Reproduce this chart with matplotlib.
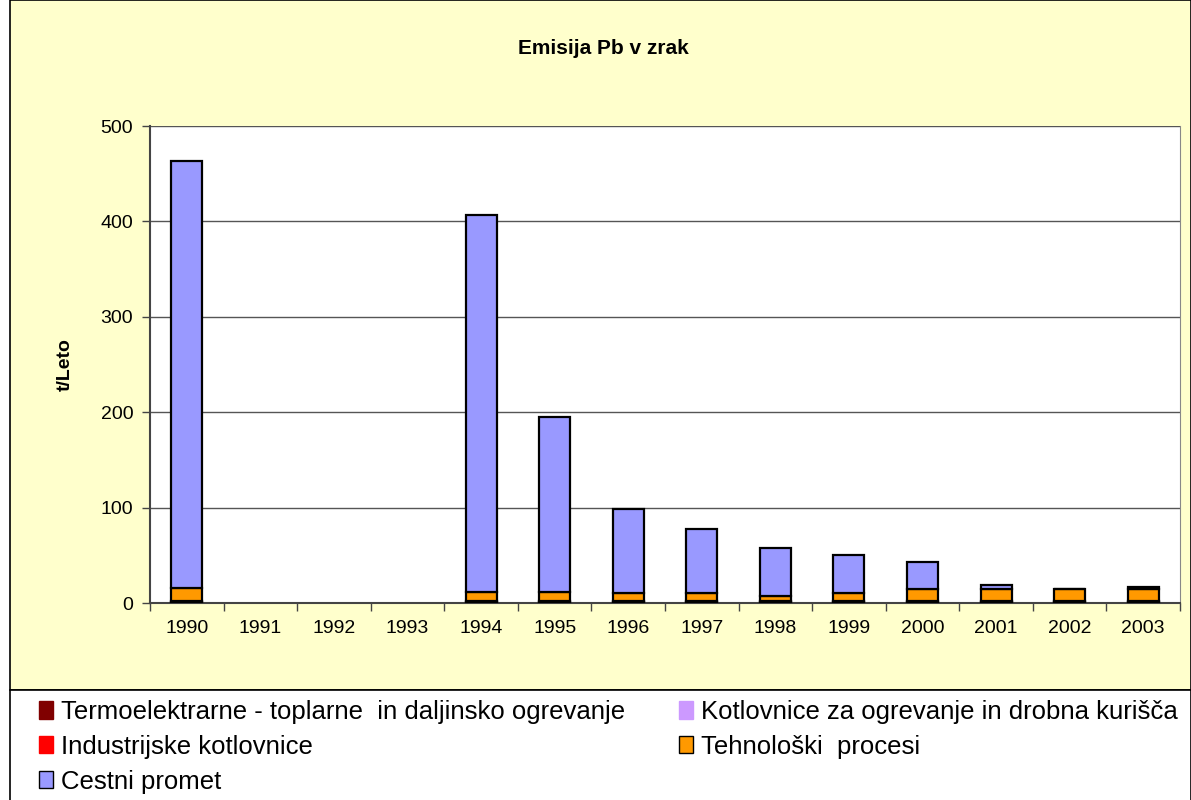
import numpy as np
import matplotlib.pyplot as plt
from matplotlib.patches import Rectangle, Patch

years = ["1990", "1991", "1992", "1993", "1994", "1995", "1996",
         "1997", "1998", "1999", "2000", "2001", "2002", "2003"]
nan = np.nan
termo = [1.5, nan, nan, nan, 1.5, 1.5, 1.0, 1.0, 1.0, 1.0, 1.0, 1.0, 1.0, 1.0]
industr = [0.5, nan, nan, nan, 0.5, 0.5, 0.5, 0.5, 0.5, 0.5, 0.5, 0.5, 0.5, 0.5]
kotlov = [0.3, nan, nan, nan, 0.3, 0.3, 0.3, 0.3, 0.3, 0.3, 0.3, 0.3, 0.3, 0.3]
tehno = [13.7, nan, nan, nan, 9.7, 9.7, 8.2, 8.2, 5.7, 8.2, 12.7, 12.5, 12.7, 12.7]
cestni = [447, nan, nan, nan, 395, 183, 88.5, 68, 50.5, 40, 28.5, 4.2, 0.3, 2.0]

series = [
    ("Termoelektrarne - toplarne  in daljinsko ogrevanje", termo, "#800000"),
    ("Industrijske kotlovnice", industr, "#FF0000"),
    ("Kotlovnice za ogrevanje in drobna kurišča", kotlov, "#CC99FF"),
    ("Tehnološki  procesi", tehno, "#FF9900"),
    ("Cestni promet", cestni, "#9999FF"),
]

plt.rcParams["font.family"] = ["Liberation Sans", "DejaVu Sans"]

fig = plt.figure(figsize=(11.91, 8), dpi=100)
fig.patch.set_facecolor("white")

# chart area (yellow) and legend area
fig.add_artist(Rectangle((10 / 1191, 110 / 800), 1 - 10 / 1191, 690 / 800,
                         transform=fig.transFigure, facecolor="#FFFFCC",
                         edgecolor="black", linewidth=1.2, zorder=0))
fig.add_artist(Rectangle((10 / 1191, -0.01), 1 - 10 / 1191, 110 / 800 + 0.01,
                         transform=fig.transFigure, facecolor="white",
                         edgecolor="black", linewidth=1.2, zorder=0))

ax = fig.add_axes([150 / 1191, 197 / 800, 1030 / 1191, 477 / 800])
ax.set_facecolor("white")

x = np.arange(len(years))
bottom = np.zeros(len(years))
for name, vals, col in series:
    v = np.array(vals, dtype=float)
    ok = ~np.isnan(v)
    ax.bar(x[ok], v[ok], bottom=bottom[ok], width=0.42, color=col,
           edgecolor="black", linewidth=1.6, zorder=3)
    bottom[ok] += v[ok]

ax.set_xlim(-0.5, len(years) - 0.5)
ax.set_ylim(0, 500)
ax.set_yticks([0, 100, 200, 300, 400, 500])
ax.set_xticks(x)
ax.set_xticklabels(years)
ax.set_xticks(np.arange(-0.5, len(years)), minor=True)
ax.tick_params(axis="x", which="major", length=0, pad=12, labelsize=14)
ax.tick_params(axis="x", which="minor", length=6, width=1, color="#444444")
ax.tick_params(axis="y", length=6, width=1, color="#444444", labelsize=14, pad=6)
ax.yaxis.grid(True, color="#555555", linewidth=1)
ax.set_axisbelow(True)
ax.spines["top"].set_visible(False)
ax.spines["right"].set_color("#888888")
ax.spines["left"].set_color("#444444")
ax.spines["bottom"].set_color("#444444")
ax.spines["left"].set_linewidth(1.5)
ax.spines["bottom"].set_linewidth(1.5)

ax.set_ylabel("t/Leto", fontsize=14, fontweight="bold", labelpad=19)
fig.text(603 / 1191, 1 - 49 / 800, "Emisija Pb v zrak", ha="center",
         va="center", fontsize=15, fontweight="bold")

handles = [Patch(facecolor=col, edgecolor=("black" if i >= 3 else col), label=name)
           for i, (name, vals, col) in enumerate(series)]
order = [0, 1, 4, 2, 3]
fig.legend([handles[i] for i in order], [series[i][0] for i in order],
           ncol=2, loc="upper left", bbox_to_anchor=(39 / 1191, 1 - 700 / 800),
           frameon=False, handlelength=0.55, handleheight=0.65,
           handletextpad=0.3, columnspacing=2.1, labelspacing=0.42,
           borderaxespad=0, borderpad=0, prop={"size": 18.5})

fig.savefig("out.png", dpi=100)
